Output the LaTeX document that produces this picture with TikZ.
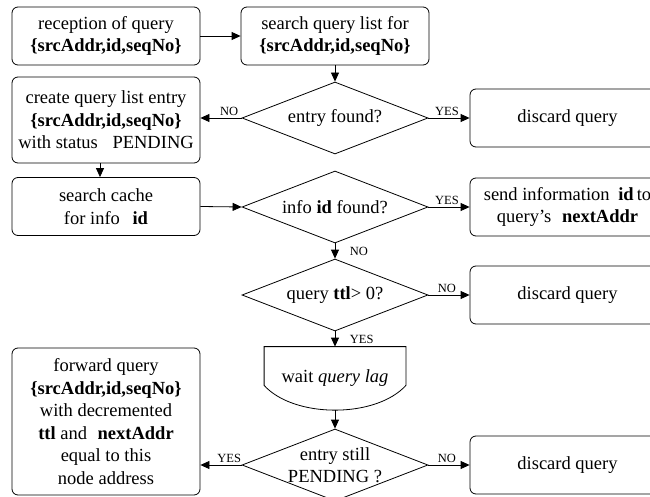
\documentclass[tikz,border=0pt]{standalone}
\usepackage{fontspec}
\setmainfont{Liberation Serif}
\usepackage{tikz}
\usetikzlibrary{shapes, arrows.meta}

\begin{document}
\begin{tikzpicture}[>={Triangle[length=9pt, width=8pt]}, x=1pt, y=1pt, line width=0.8pt,
        font=\fontsize{18.5}{22.5}\selectfont]
            \tikzstyle{block} = [draw, rectangle, rounded corners=6pt, minimum width=188pt, minimum height=58pt, align=center, inner sep=2pt]
            \tikzstyle{wide} = [block, minimum width=195pt]
            \tikzstyle{decision} = [draw, diamond, aspect=2.58, minimum width=186pt, minimum height=72pt, inner sep=0pt, align=center]
            \tikzstyle{waitbox} = [rectangle, minimum width=141pt, minimum height=63pt, inner sep=0pt]
            \tikzstyle{answer} = [font=\fontsize{12.5}{14}\selectfont, inner sep=1.5pt]

            \useasboundingbox (0,0) rectangle (650,-497);
            \clip (0,0) rectangle (650,-497);

            \node[block] (recv) at (106,-36) {reception of query\\\textbf{\{srcAddr,id,seqNo\}}};
            \node[block, right of=recv, node distance=229pt] (search) {search query list for\\\textbf{\{srcAddr,id,seqNo\}}};
            \node[decision, below of=search, node distance=82pt] (found) {entry found?};
            \node[block, minimum height=86pt, left of=found, node distance=229pt, yshift=-2pt] (create) {create query list entry\\\textbf{\{srcAddr,id,seqNo\}}\\with status\hspace{10pt} PENDING};
            \node[wide, right of=found, node distance=232.5pt] (discA) {discard query};
            \node[block, below of=create, node distance=86.5pt] (cache) {search cache\\for info\hspace{8pt} \textbf{id}};
            \node[decision, below of=found, node distance=89pt] (info) {info \textbf{id} found?};
            \node[wide, right of=info, node distance=232.5pt] (send) {send information\hspace{4pt} \textbf{id}\,to\\query’s\hspace{6pt} \textbf{nextAddr}};
            \node[decision, below of=info, node distance=88pt] (ttl) {query \textbf{ttl}> 0?};
            \node[wide, right of=ttl, node distance=232.5pt] (discB) {discard query};
            \node[waitbox, below of=ttl, node distance=83.5pt] (wait) {wait \textit{query lag}};
            \node[decision, inner sep=-3pt, below of=wait, node distance=86.5pt] (pending) {entry still\\PENDING ?};
            \node[block, minimum height=147pt, left of=pending, node distance=229pt, yshift=43.5pt] (forward) {forward query\\\textbf{\{srcAddr,id,seqNo\}}\\with decremented\\\textbf{ttl} and\hspace{6pt} \textbf{nextAddr}\\equal to this\\node address};
            \node[wide, right of=pending, node distance=232.5pt] (discC) {discard query};

            % outline of the wait box
            \draw (wait.north west) -- (wait.north east) -- ([yshift=25pt]wait.south east)
                .. controls ([xshift=-30pt, yshift=-8pt]wait.south east) and ([xshift=30pt, yshift=-8pt]wait.south west) .. ([yshift=25pt]wait.south west) -- cycle;

            \draw[->] (recv.east) -- (search.west);
            \draw[->] (search.south) -- (found.north);
            \draw[->] (found.west) -- (found.west -| create.east) node[answer, above, pos=0.3] (noA) {NO};
            \draw[->] (found.east) -- (discA.west) node[answer, above, pos=0.45] (yesA) {YES};
            \draw[->] ([xshift=-6pt]create.south) -- ([xshift=-6pt]cache.north);
            \draw[->] (cache.east) -- (info.west);
            \draw[->] (info.east) -- (send.west) node[answer, above, pos=0.45] (yesB) {YES};
            \draw[->] (info.south) -- (ttl.north) node[answer, right, pos=0.5, xshift=13pt] (noB) {NO};
            \draw[->] (ttl.east) -- (discB.west) node[answer, above, pos=0.45] (noC) {NO};
            \draw[->] (ttl.south) -- (wait.north) node[answer, right, pos=0.5, xshift=13pt] (yesC) {YES};
            \draw[->] (wait.south) -- (pending.north);
            \draw[->] (pending.west) -- (pending.west -| forward.east) node[answer, above, pos=0.3] (yesD) {YES};
            \draw[->] (pending.east) -- (discC.west) node[answer, above, pos=0.45] (noD) {NO};
        \end{tikzpicture}
\end{document}
